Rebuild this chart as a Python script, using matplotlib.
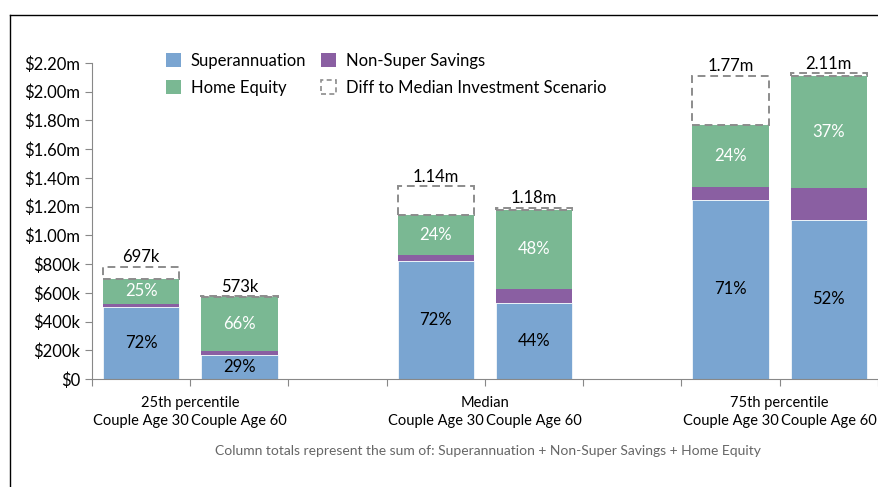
import matplotlib
matplotlib.use("Agg")

import matplotlib.pyplot as plt
import matplotlib.ticker as ticker
from matplotlib.patches import Patch
from matplotlib.lines import Line2D
import numpy as np

plt.rcParams.update({
    "font.family": ["Lato", "DejaVu Sans"],
    "font.size": 11.5,
})

# data ($m)
groups = ["25th percentile", "Median", "75th percentile"]
ages = ["Couple Age 30", "Couple Age 60"]
superann = [0.503, 0.167, 0.820, 0.527, 1.249, 1.107]
non_super = [0.019, 0.030, 0.043, 0.098, 0.086, 0.225]
home_equity = [0.175, 0.376, 0.277, 0.555, 0.435, 0.778]
diff_median = [0.085, 0.005, 0.202, 0.013, 0.340, 0.020]
total_labels = ["697k", "573k", "1.14m", "1.18m", "1.77m", "2.11m"]
super_pct = ["72%", "29%", "72%", "44%", "71%", "52%"]
home_pct = ["25%", "66%", "24%", "48%", "24%", "37%"]

c_super = "#7aa5d1"
c_non = "#8a5fa2"
c_home = "#7ab893"
c_dash = "#8c8c8c"

fig = plt.figure(figsize=(8.79, 4.87), dpi=100)
ax = fig.add_axes([92 / 879, 1 - 379 / 487, 786 / 879, 316 / 487])

# bar slots: two bars, gap, two bars, gap, two bars
x = np.array([0, 1, 3, 4, 6, 7]) + 0.5
w = 0.78

sup = np.array(superann)
non = np.array(non_super)
home = np.array(home_equity)
diff = np.array(diff_median)
tot = sup + non + home

ax.bar(x, sup, w, color=c_super, edgecolor="white", linewidth=0.5)
ax.bar(x, non, w, bottom=sup, color=c_non, edgecolor="none")
ax.bar(x, home, w, bottom=sup + non, color=c_home, edgecolor="none")
ax.bar(x, diff, w, bottom=tot, fill=False, edgecolor=c_dash,
       linestyle=(0, (4, 2.5)), linewidth=1.4)

for i in range(len(x)):
    ax.text(x[i], sup[i] / 2, super_pct[i], ha="center", va="center",
            fontsize=12, color="black")
    ax.text(x[i], sup[i] + non[i] + home[i] / 2, home_pct[i], ha="center",
            va="center", fontsize=12, color="white")
    ax.text(x[i], tot[i] + diff[i] + 0.01, total_labels[i], ha="center",
            va="bottom", fontsize=12)

ax.set_xlim(0, 8)
ax.set_ylim(0, 2.2)
ax.yaxis.set_major_locator(ticker.MultipleLocator(0.2))
ax.yaxis.set_major_formatter(ticker.FuncFormatter(
    lambda v, pos: "$0" if v < 0.01 else (f"${v * 1000:.0f}k" if v < 0.99 else f"${v:.2f}m")))
ax.set_xticks(np.arange(0, 9))
ax.set_xticklabels([])

for s in ["top", "right"]:
    ax.spines[s].set_visible(False)
for s in ["left", "bottom"]:
    ax.spines[s].set_color("#888888")
ax.tick_params(axis="y", colors="#888888", labelcolor="black", labelsize=12, length=5)
ax.tick_params(axis="x", colors="#888888", length=5)

# category labels
for i in range(6):
    ax.text(x[i], -0.292, ages[i % 2], ha="center", va="center", fontsize=10.5,
            clip_on=False)
for g, xc in zip(groups, [1, 4, 7]):
    ax.text(xc, -0.167, g, ha="center", va="center", fontsize=10.5, clip_on=False)

fig.text(488 / 879, 1 - 451 / 487,
         "Column totals represent the sum of: Superannuation + Non-Super Savings + Home Equity",
         ha="center", va="center", fontsize=10, color="#666666")

handles = [
    Patch(facecolor=c_super, edgecolor="none"),
    Patch(facecolor=c_home, edgecolor="none"),
    Patch(facecolor=c_non, edgecolor="none"),
    Patch(facecolor="white", edgecolor=c_dash, linestyle=(0, (3, 2)), linewidth=1.2),
]
labels = ["Superannuation", "Home Equity", "Non-Super Savings",
          "Diff to Median Investment Scenario"]
ax.legend(handles, labels, ncol=2, loc="upper left", bbox_to_anchor=(0.075, 1.08),
          frameon=False, fontsize=12, handlelength=0.9, handleheight=0.9,
          handletextpad=0.6, columnspacing=0.9, labelspacing=0.65)

# outer frame (left and top edges)
fig.add_artist(Line2D([10 / 879, 10 / 879], [0, 1 - 15 / 487], color="black", linewidth=1))
fig.add_artist(Line2D([10 / 879, 1], [1 - 15 / 487, 1 - 15 / 487], color="black", linewidth=1))

fig.savefig("out.png", dpi=100)
